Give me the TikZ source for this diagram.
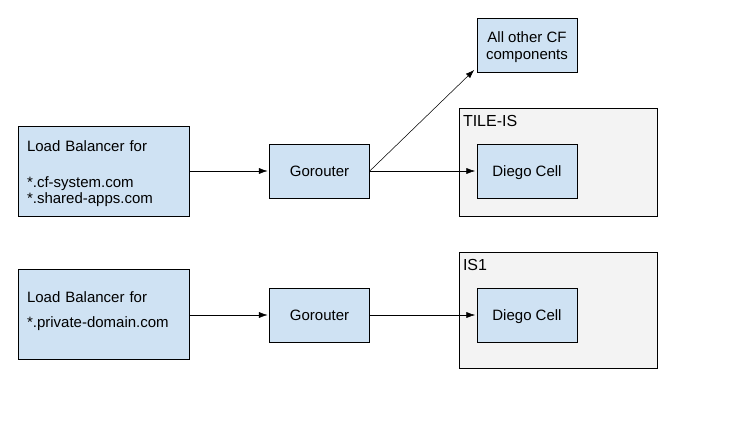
\documentclass[tikz,border=0pt]{standalone}
\usepackage{fontspec}
\setmainfont{Liberation Sans}
\usetikzlibrary{arrows.meta}
\definecolor{boxblue}{HTML}{CFE2F3}
\definecolor{zonegray}{HTML}{F3F3F3}
\begin{document}
\begin{tikzpicture}[x=0.75pt,y=-0.75pt,
    >={Latex[length=6.5pt,width=4.5pt]},
    every path/.append style={shorten >=1.2pt},
    box/.style={draw,fill=boxblue,inner sep=0pt,
      font=\fontsize{11.25}{12.5}\selectfont},
    comp/.style={box,minimum width=75pt,minimum height=40.5pt,align=center,text depth=0pt},
    lb/.style={box,minimum width=128.25pt,minimum height=67.5pt,
      text width=114.75pt,align=left},
    zone/.style={draw,fill=zonegray,inner sep=0pt,minimum width=148.5pt},
    zonelabel/.style={anchor=north west,inner xsep=3pt,inner ysep=5.5pt,
      font=\fontsize{12}{14}\selectfont}]
    \useasboundingbox (0,0) rectangle (730,442);
    % zones
    \node[zone,minimum height=81pt] (tile) at (558,162) {};
    \node[zonelabel] (tilename) at (tile.north west) {TILE-IS};
    \node[zone,minimum height=87pt] (is1) at (558,310) {};
    \node[zonelabel] (is1name) at (is1.north west) {IS1};
    % first row
    \node[lb] (lb1) at (103.5,171) {\rule{0pt}{12pt}Load Balancer for\\[14.5pt]{}*.cf-system.com\\{}*.shared-apps.com};
    \node[comp] (gr1) at (319.5,171) {Gorouter};
    \node[comp] (cf) at (527,45.5) {All other CF\\components};
    \node[comp] (dc1) at (527,171) {Diego Cell};
    % second row
    \node[lb] (lb2) at (103.5,314) {Load Balancer for\\[6.25pt]{}*.private-domain.com\\[-6.5pt]\mbox{}};
    \node[comp] (gr2) at (319.5,315) {Gorouter};
    \node[comp] (dc2) at (527,315) {Diego Cell};
    % arrows
    \draw[->] (lb1) -- (gr1);
    \draw[->] (gr1.east) -- (dc1.west);
    \draw[->] (gr1.east) -- ([xshift=-1pt,yshift=3pt]cf.south west);
    \draw[->] (lb2.east |- gr2) -- (gr2);
    \draw[->] (gr2) -- (dc2);
\end{tikzpicture}
\end{document}
